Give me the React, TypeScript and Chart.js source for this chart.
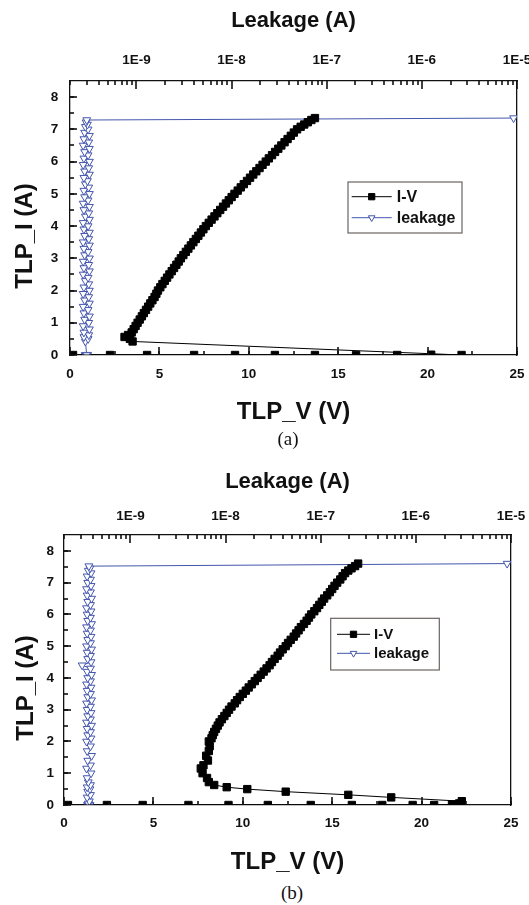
import React, { useEffect, useRef } from 'react';
import { Chart, registerables } from 'chart.js';
import { drawPoint } from 'chart.js/helpers';

Chart.register(...registerables);

const FONT = '"Liberation Sans", Arial, Helvetica, sans-serif';

// ---- axes ----
const X_RANGE = [0, 25];
const Y_RANGE = [0, 8.5];
const LEAK_RANGE = [2e-10, 1e-5];
const X_TICKS = [0, 5, 10, 15, 20, 25];
const Y_TICKS = [0, 1, 2, 3, 4, 5, 6, 7, 8];
const TOP_TICKS = [1e-9, 1e-8, 1e-7, 1e-6, 1e-5];
const TOP_TICK_LABELS = ['1E-9', '1E-8', '1E-7', '1E-6', '1E-5'];

// ---- chart (a): TLP voltage (V), TLP current (A), leakage (A) ----
const A_V = [
  0.17, 2.24, 4.31, 6.94, 9.23, 11.46, 13.7, 16.0, 18.3, 20.2, 21.9,
  3.5, 3.35, 3.05, 3.25,
  3.45, 3.56, 3.67, 3.78, 3.9, 4.02, 4.13, 4.25, 4.37, 4.49,
  4.61, 4.73, 4.83, 4.92, 5.05, 5.17, 5.3, 5.43, 5.56, 5.69,
  5.82, 5.95, 6.08, 6.2, 6.34, 6.48, 6.62, 6.76, 6.9, 7.04,
  7.18, 7.32, 7.46, 7.6, 7.76, 7.92, 8.08, 8.24, 8.4, 8.56,
  8.72, 8.88, 9.04, 9.2, 9.38, 9.55, 9.72, 9.9, 10.07, 10.25,
  10.42, 10.6, 10.77, 10.95, 11.12, 11.3, 11.47, 11.65, 11.82, 12.0,
  12.17, 12.35, 12.52, 12.7, 12.9, 13.1, 13.3, 13.5, 13.7,
];
const A_I = [
  0, 0, 0, 0, 0, 0, 0, 0, 0, 0.01, 0,
  0.42, 0.5, 0.56, 0.62,
  0.7, 0.8, 0.9, 1.0, 1.1, 1.2, 1.3, 1.4, 1.5, 1.6,
  1.7, 1.8, 1.9, 2.0, 2.1, 2.2, 2.3, 2.4, 2.5, 2.6,
  2.7, 2.8, 2.9, 3.0, 3.1, 3.2, 3.3, 3.4, 3.5, 3.6,
  3.7, 3.8, 3.9, 4.0, 4.1, 4.2, 4.3, 4.4, 4.5, 4.6,
  4.7, 4.8, 4.9, 5.0, 5.1, 5.2, 5.3, 5.4, 5.5, 5.6,
  5.7, 5.8, 5.9, 6.0, 6.1, 6.2, 6.3, 6.4, 6.5, 6.6,
  6.7, 6.8, 6.9, 7.0, 7.08, 7.15, 7.22, 7.29, 7.35,
];
const A_LEAK = [
  2.95e-10, 3.0e-10, 2.9e-10, 3.05e-10, 2.95e-10, 3.0e-10, 2.9e-10, 3.0e-10, 2.95e-10, 3.05e-10, 3.0e-10,
  2.9e-10, 3.1e-10, 2.8e-10, 3.15e-10,
  2.8e-10, 3.2e-10, 2.75e-10, 3.15e-10, 2.85e-10, 3.2e-10, 2.8e-10, 3.1e-10, 2.75e-10, 3.2e-10,
  2.85e-10, 3.15e-10, 2.75e-10, 3.2e-10, 2.8e-10, 3.15e-10, 2.9e-10, 3.1e-10, 2.75e-10, 3.2e-10,
  2.8e-10, 3.15e-10, 2.75e-10, 3.2e-10, 2.85e-10, 3.1e-10, 2.8e-10, 3.2e-10, 2.75e-10, 3.15e-10,
  2.85e-10, 3.2e-10, 2.8e-10, 3.1e-10, 2.75e-10, 3.2e-10, 2.9e-10, 3.15e-10, 2.8e-10, 3.2e-10,
  2.75e-10, 3.1e-10, 2.85e-10, 3.2e-10, 2.8e-10, 3.15e-10, 2.9e-10, 3.05e-10, 2.8e-10, 3.2e-10,
  2.85e-10, 3.15e-10, 2.75e-10, 3.2e-10, 2.8e-10, 3.1e-10, 2.85e-10, 3.2e-10, 2.75e-10, 3.15e-10,
  2.8e-10, 3.2e-10, 2.85e-10, 3.1e-10, 2.9e-10, 3.05e-10, 2.95e-10, 3.0e-10, 9.2e-6,
];

// ---- chart (b) ----
const B_V = [
  0.22, 2.4, 4.4, 6.96, 9.2, 11.4, 13.8, 16.1, 17.8, 19.5, 20.7, 21.7, 22.1,
  22.25, 18.3, 15.9, 12.4, 10.25, 9.1, 8.4, 8.1,
  8.0, 7.75, 7.65, 7.8, 8.05, 7.95, 8.1, 8.15, 8.1,
  8.25, 8.32, 8.4, 8.5, 8.6, 8.7, 8.83, 8.97, 9.1, 9.23,
  9.37, 9.55, 9.68, 9.83, 10.0, 10.17, 10.33, 10.5, 10.67, 10.83,
  11.0, 11.17, 11.33, 11.5, 11.63, 11.78, 11.95, 12.08, 12.23, 12.4,
  12.53, 12.68, 12.85, 12.98, 13.12, 13.25, 13.42, 13.57, 13.7, 13.83,
  14.0, 14.15, 14.28, 14.42, 14.55, 14.72, 14.87, 15.0, 15.13, 15.28,
  15.45, 15.58, 15.72, 15.9, 16.08, 16.28, 16.45,
];
const B_I = [
  0, 0, 0, 0, 0, 0, 0, 0, 0, 0, 0, 0.02, 0.05,
  0.12, 0.24, 0.32, 0.42, 0.5, 0.56, 0.63, 0.72,
  0.85, 1.0, 1.15, 1.25, 1.4, 1.55, 1.7, 1.85, 2.0,
  2.1, 2.2, 2.3, 2.4, 2.5, 2.6, 2.7, 2.8, 2.9, 3.0,
  3.1, 3.2, 3.3, 3.4, 3.5, 3.6, 3.7, 3.8, 3.9, 4.0,
  4.1, 4.2, 4.3, 4.4, 4.5, 4.6, 4.7, 4.8, 4.9, 5.0,
  5.1, 5.2, 5.3, 5.4, 5.5, 5.6, 5.7, 5.8, 5.9, 6.0,
  6.1, 6.2, 6.3, 6.4, 6.5, 6.6, 6.7, 6.8, 6.9, 7.0,
  7.1, 7.2, 7.3, 7.38, 7.45, 7.52, 7.6,
];
const B_LEAK = [
  3.6e-10, 3.7e-10, 3.55e-10, 3.75e-10, 3.6e-10, 3.65e-10, 3.7e-10, 3.55e-10, 3.7e-10, 3.6e-10, 3.75e-10, 3.65e-10, 3.6e-10,
  3.7e-10, 3.5e-10, 3.8e-10, 3.55e-10, 3.75e-10, 3.5e-10, 3.8e-10, 3.6e-10,
  3.5e-10, 3.85e-10, 3.45e-10, 3.8e-10, 3.55e-10, 3.9e-10, 3.5e-10, 3.8e-10, 3.45e-10, 3.85e-10,
  3.55e-10, 3.8e-10, 3.5e-10, 3.9e-10, 3.45e-10, 3.8e-10, 3.55e-10, 3.85e-10, 3.5e-10, 3.8e-10,
  3.45e-10, 3.9e-10, 3.55e-10, 3.8e-10, 3.5e-10, 3.85e-10, 3.45e-10, 3.8e-10, 3.55e-10, 3.9e-10,
  3.5e-10, 3.8e-10, 3.1e-10, 3.85e-10, 3.55e-10, 3.8e-10, 3.5e-10, 3.9e-10, 3.45e-10, 3.8e-10,
  3.55e-10, 3.85e-10, 3.5e-10, 3.8e-10, 3.45e-10, 3.9e-10, 3.55e-10, 3.8e-10, 3.5e-10, 3.85e-10,
  3.45e-10, 3.8e-10, 3.55e-10, 3.9e-10, 3.5e-10, 3.8e-10, 3.45e-10, 3.85e-10, 3.55e-10, 3.8e-10,
  3.5e-10, 3.85e-10, 3.6e-10, 3.75e-10, 3.65e-10, 9.1e-6,
];

const IV_COLOR = '#000000';
const LEAK_COLOR = '#4356ad';
const AXIS_COLOR = '#111111';
const TEXT_COLOR = '#111111';

function linearSteps(lo: number, hi: number, step: number) {
  const out: number[] = [];
  for (let v = lo; v <= hi + 1e-9; v += step) out.push(Math.round(v * 1000) / 1000);
  return out;
}
function logMinor(lo: number, hi: number) {
  const out: number[] = [];
  for (let e = -11; e <= -5; e++) {
    for (let m = 2; m <= 9; m++) {
      const v = m * Math.pow(10, e);
      if (v >= lo * 0.999 && v <= hi * 1.001) out.push(v);
    }
  }
  return out;
}

type Layout = {
  leftW: number; rightPad: number; topH: number; bottomH: number;
  topTitlePad: number; topTickPad: number; bottomTickPad: number; bottomTitlePad: number;
  yTickPad: number; yTitleX: number; yTitleDy: number;
  legend: { x: number; y: number; w: number; h: number; row0: number; gap: number; l0: number; l1: number; tx: number; font: number };
};

function makeConfig(V: number[], I: number[], LEAK: number[], L: Layout): any {
  const ivPts = V.map((v, i) => ({ x: v, y: I[i] }));
  const lkPts = LEAK.map((v, i) => ({ x: v, y: I[i] }));
  const tickFont = { family: FONT, size: 13.5, weight: 'bold' as const };
  const titleFont = { family: FONT, size: 24, weight: 'bold' as const };
  const hFit = (h: number) => (s: any) => { s.height = h; s.paddingLeft = 0; s.paddingRight = 0; };
  const vFit = (w: number) => (s: any) => { s.width = w; s.paddingTop = 0; s.paddingBottom = 0; };
  const setTicks = (vals: number[]) => (s: any) => { s.ticks = vals.map((v) => ({ value: v })); };
  const mkGrid = () => ({ display: true, drawOnChartArea: false, drawTicks: false });
  const mkBorder = () => ({ display: true, color: AXIS_COLOR, width: 1.3 });

  const X_MINOR = linearSteps(X_RANGE[0], X_RANGE[1], 2.5);
  const Y_MINOR = linearSteps(Y_RANGE[0], 8, 0.5);
  const TOP_MINOR = logMinor(LEAK_RANGE[0], LEAK_RANGE[1]);

  // inward major / minor tick marks, placed through the chart's own scales
  const paintTicks = (chart: any) => {
    const ctx = chart.ctx;
    const a = chart.chartArea;
    const sx = chart.scales.x;
    const sx2 = chart.scales.x2;
    const sy = chart.scales.y;
    const seg = (x1: number, y1: number, x2: number, y2: number) => {
      ctx.beginPath();
      ctx.moveTo(x1, y1);
      ctx.lineTo(x2, y2);
      ctx.stroke();
    };
    ctx.save();
    ctx.setLineDash([]);
    ctx.globalAlpha = 1;
    ctx.strokeStyle = AXIS_COLOR;
    ctx.lineWidth = 1.6;
    X_MINOR.forEach((v) => { const x = Math.round(sx.getPixelForValue(v)); seg(x, a.bottom, x, a.bottom - 4); });
    X_TICKS.forEach((v) => { const x = Math.round(sx.getPixelForValue(v)); seg(x, a.bottom, x, a.bottom - 8); });
    TOP_MINOR.forEach((v) => { const x = Math.round(sx2.getPixelForValue(v)); seg(x, a.top, x, a.top + 4); });
    TOP_TICKS.forEach((v) => { const x = Math.round(sx2.getPixelForValue(v)); seg(x, a.top, x, a.top + 8); });
    Y_MINOR.forEach((v) => { const y = Math.round(sy.getPixelForValue(v)); seg(a.left, y, a.left + 4, y); });
    Y_TICKS.forEach((v) => { const y = Math.round(sy.getPixelForValue(v)); seg(a.left, y, a.left + 7, y); });
    ctx.restore();
  };

  const extras = {
    id: 'extras',
    afterDraw(chart: any) {
      paintTicks(chart);
      const { ctx, chartArea } = chart;
      ctx.save();
      ctx.font = `bold 24px ${FONT}`;
      ctx.fillStyle = TEXT_COLOR;
      ctx.translate(L.yTitleX, (chartArea.top + chartArea.bottom) / 2 + L.yTitleDy);
      ctx.rotate(-Math.PI / 2);
      ctx.textAlign = 'center';
      ctx.textBaseline = 'middle';
      ctx.fillText('TLP_I (A)', 0, 0);
      ctx.restore();

      const lg = L.legend;
      const lx = chartArea.left + lg.x;
      const ly = chartArea.top + lg.y;
      ctx.save();
      ctx.fillStyle = '#ffffff';
      ctx.fillRect(lx, ly, lg.w, lg.h);
      ctx.strokeStyle = '#6a6461';
      ctx.lineWidth = 1.2;
      ctx.strokeRect(lx, ly, lg.w, lg.h);
      chart.data.datasets.forEach((ds: any, i: number) => {
        const cy = ly + lg.row0 + i * lg.gap;
        ctx.strokeStyle = ds.borderColor;
        ctx.lineWidth = 1;
        ctx.beginPath();
        ctx.moveTo(lx + lg.l0, cy);
        ctx.lineTo(lx + lg.l1, cy);
        ctx.stroke();
        ctx.fillStyle = ds.pointBackgroundColor;
        ctx.strokeStyle = ds.pointBorderColor;
        ctx.lineWidth = ds.pointBorderWidth;
        drawPoint(ctx, { pointStyle: ds.pointStyle, rotation: ds.pointRotation || 0, radius: ds.pointRadius * 0.85, borderWidth: ds.pointBorderWidth } as any, lx + (lg.l0 + lg.l1) / 2, cy);
        ctx.fillStyle = TEXT_COLOR;
        ctx.font = `bold ${lg.font}px ${FONT}`;
        ctx.textAlign = 'left';
        ctx.textBaseline = 'middle';
        ctx.fillText(ds.label, lx + lg.tx, cy + 1);
      });
      ctx.restore();
    },
  };

  return {
    type: 'scatter',
    data: {
      datasets: [
        {
          label: 'I-V', data: ivPts, xAxisID: 'x', yAxisID: 'y', showLine: true,
          borderColor: IV_COLOR, borderWidth: 1, pointStyle: 'rect', pointRadius: 5.2,
          pointBackgroundColor: IV_COLOR, pointBorderColor: IV_COLOR, pointBorderWidth: 1,
        },
        {
          label: 'leakage', data: lkPts, xAxisID: 'x2', yAxisID: 'y', showLine: true,
          borderColor: LEAK_COLOR, borderWidth: 1, pointStyle: 'triangle', pointRotation: 180, pointRadius: 4.5,
          pointBackgroundColor: '#ffffff', pointBorderColor: LEAK_COLOR, pointBorderWidth: 1,
        },
      ],
    },
    options: {
      responsive: false,
      animation: false,
      events: [],
      layout: { padding: { left: 0, right: L.rightPad, top: 0, bottom: 0 } },
      plugins: { legend: { display: false }, tooltip: { enabled: false } },
      scales: {
        x: {
          type: 'linear', position: 'bottom', min: X_RANGE[0], max: X_RANGE[1],
          afterBuildTicks: setTicks(X_TICKS), afterFit: hFit(L.bottomH),
          ticks: { font: tickFont, color: TEXT_COLOR, padding: L.bottomTickPad, maxRotation: 0, autoSkip: false },
          grid: mkGrid(), border: mkBorder(),
          title: { display: true, text: 'TLP_V (V)', font: titleFont, color: TEXT_COLOR, padding: { top: 0, bottom: L.bottomTitlePad } },
        },
        x2: {
          type: 'logarithmic', position: 'top', min: LEAK_RANGE[0], max: LEAK_RANGE[1],
          afterBuildTicks: setTicks(TOP_TICKS), afterFit: hFit(L.topH),
          ticks: {
            font: tickFont, color: TEXT_COLOR, padding: L.topTickPad, maxRotation: 0, autoSkip: false,
            callback: (_v: any, i: number) => TOP_TICK_LABELS[i],
          },
          grid: mkGrid(), border: mkBorder(),
          title: { display: true, text: 'Leakage (A)', font: { family: FONT, size: 22, weight: 'bold' }, color: TEXT_COLOR, padding: { top: L.topTitlePad, bottom: 0 } },
        },
        y: {
          type: 'linear', position: 'left', min: Y_RANGE[0], max: Y_RANGE[1],
          afterBuildTicks: setTicks(Y_TICKS), afterFit: vFit(L.leftW),
          ticks: { font: tickFont, color: TEXT_COLOR, padding: L.yTickPad, autoSkip: false },
          grid: mkGrid(), border: mkBorder(),
          title: { display: false },
        },
        yr: {
          type: 'linear', position: 'right', min: Y_RANGE[0], max: Y_RANGE[1],
          afterFit: vFit(0),
          ticks: { display: false },
          grid: mkGrid(), border: mkBorder(),
        },
      },
    },
    plugins: [extras],
  };
}

const LAYOUT_A: Layout = {
  leftW: 70, rightPad: 12, topH: 81, bottomH: 75,
  topTitlePad: 7.8, topTickPad: 12.9, bottomTickPad: 10.9, bottomTitlePad: 3.6,
  yTickPad: 11.7, yTitleX: 25, yTitleDy: 18,
  legend: { x: 278, y: 101, w: 114, h: 51, row0: 14.7, gap: 21, l0: 3.7, l1: 43.7, tx: 48.7, font: 16 },
};
const LAYOUT_B: Layout = {
  leftW: 64, rightPad: 18, topH: 85, bottomH: 75,
  topTitlePad: 18.8, topTickPad: 10.9, bottomTickPad: 9.9, bottomTitlePad: 3.6,
  yTickPad: 10, yTitleX: 26, yTitleDy: 18,
  legend: { x: 266.7, y: 83.3, w: 108.6, h: 51.7, row0: 16, gap: 19, l0: 6.3, l1: 39.3, tx: 43.3, font: 15 },
};

export default function App() {
  const refA = useRef<HTMLCanvasElement | null>(null);
  const refB = useRef<HTMLCanvasElement | null>(null);

  useEffect(() => {
    const ca = new Chart(refA.current as HTMLCanvasElement, makeConfig(A_V, A_I, A_LEAK, LAYOUT_A));
    const cb = new Chart(refB.current as HTMLCanvasElement, makeConfig(B_V, B_I, B_LEAK, LAYOUT_B));
    return () => { ca.destroy(); cb.destroy(); };
  }, []);

  const caption: React.CSSProperties = {
    position: 'absolute', transform: 'translate(-50%, -50%)',
    font: '19px "Liberation Serif", "Times New Roman", serif', color: '#111', whiteSpace: 'nowrap',
  };

  return (
    <div style={{ position: 'absolute', left: 0, top: 0, width: 529, height: 905, background: '#ffffff' }}>
      <canvas ref={refA} width={529} height={430} style={{ position: 'absolute', left: 0, top: 0 }} />
      <div style={{ ...caption, left: 288, top: 439 }}>(a)</div>
      <canvas ref={refB} width={529} height={430} style={{ position: 'absolute', left: 0, top: 450 }} />
      <div style={{ ...caption, left: 292, top: 893 }}>(b)</div>
    </div>
  );
}
